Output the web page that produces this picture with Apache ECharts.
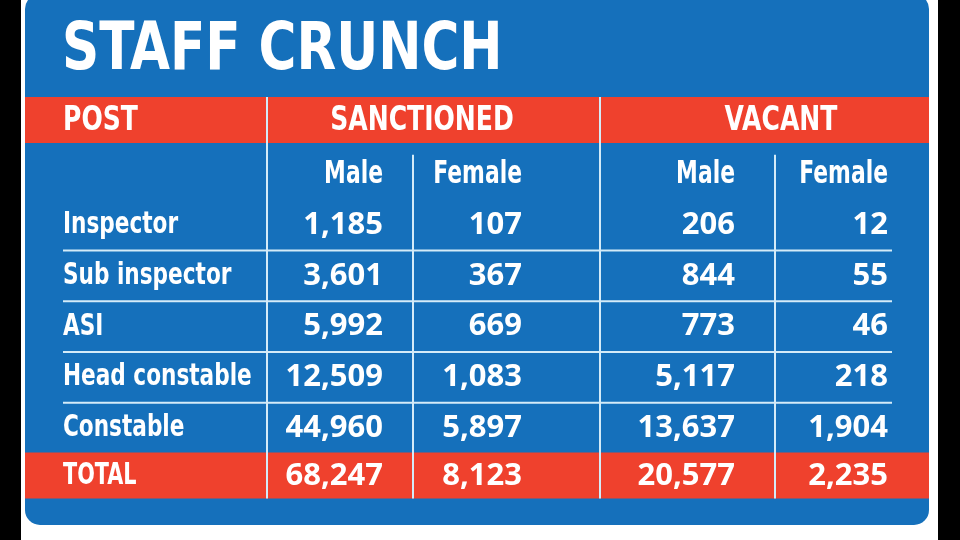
<!DOCTYPE html>
<html>
<head>
<meta charset="utf-8">
<title>Staff crunch</title>
<script src="https://cdn.jsdelivr.net/npm/echarts@6/dist/echarts.min.js"></script>
<style>
  html, body { margin: 0; padding: 0; background: #fff; }
  #main { width: 960px; height: 540px; }
</style>
</head>
<body>
<div id="main"></div>
<script>
// table data
var title = 'STAFF CRUNCH';
var groupHeaders = ['POST', 'SANCTIONED', 'VACANT'];
var subHeaders = ['Male', 'Female'];
var posts = ['Inspector', 'Sub inspector', 'ASI', 'Head constable', 'Constable'];
var sanctionedMale = [1185, 3601, 5992, 12509, 44960];
var sanctionedFemale = [107, 367, 669, 1083, 5897];
var vacantMale = [206, 844, 773, 5117, 13637];
var vacantFemale = [12, 55, 46, 218, 1904];
var totalLabel = 'TOTAL';
var totals = [68247, 8123, 20577, 2235];

// rows of the table (y category axis)
var rows = ['group', 'sub'].concat(posts, [totalLabel]);

// column layout (pixels on a 0..960 value axis)
var COL = {
  panelL: 25, panelR: 929,
  label: 63,
  sMale: 383, sFemale: 522, vMale: 735, vFemale: 888,
  sMid: 422, vMid: 781,
  div1: 267, div2: 600, sub1: 413, sub2: 775,
  ruleL: 63, ruleR: 892
};
var BLUE = '#1570BB';
var RED = '#EF412D';
var RULE = '#d4ebf8';
var NARROW = "'DejaVu Sans Condensed', 'Liberation Sans Narrow', 'Noto Sans', sans-serif";
var WIDE = "'Noto Sans', 'Open Sans', sans-serif";
var BAND_H = 46;

function fmt(v) { return v.toLocaleString('en-US'); }

// text cells
var cells = [];
cells.push({ x: COL.label, row: 'group', text: groupHeaders[0], kind: 'group', align: 'left' });
cells.push({ x: COL.sMid, row: 'group', text: groupHeaders[1], kind: 'group', align: 'center' });
cells.push({ x: COL.vMid, row: 'group', text: groupHeaders[2], kind: 'group', align: 'center' });
[COL.sMale, COL.sFemale, COL.vMale, COL.vFemale].forEach(function (x, i) {
  cells.push({ x: x, row: 'sub', text: subHeaders[i % 2], kind: 'sub', align: 'right' });
});
posts.forEach(function (p, i) {
  cells.push({ x: COL.label, row: p, text: p, kind: 'label', align: 'left' });
  cells.push({ x: COL.sMale, row: p, text: fmt(sanctionedMale[i]), kind: 'num', align: 'right' });
  cells.push({ x: COL.sFemale, row: p, text: fmt(sanctionedFemale[i]), kind: 'num', align: 'right' });
  cells.push({ x: COL.vMale, row: p, text: fmt(vacantMale[i]), kind: 'num', align: 'right' });
  cells.push({ x: COL.vFemale, row: p, text: fmt(vacantFemale[i]), kind: 'num', align: 'right' });
});
cells.push({ x: COL.label, row: totalLabel, text: totalLabel, kind: 'total', align: 'left' });
[COL.sMale, COL.sFemale, COL.vMale, COL.vFemale].forEach(function (x, i) {
  cells.push({ x: x, row: totalLabel, text: fmt(totals[i]), kind: 'num', align: 'right' });
});

// font and horizontal squeeze per kind of cell
var FONTS = {
  group: { font: 'bold 33px ' + NARROW, sx: 0.845 },
  sub: { font: 'bold 32px ' + NARROW, sx: 0.76 },
  label: { font: 'bold 31px ' + NARROW, sx: 0.775 },
  total: { font: 'bold 30px ' + NARROW, sx: 0.77 },
  num: { font: 'bold 31px ' + WIDE, sx: 1 }
};

function bandTop(api, row) {
  var c = api.coord([0, rows.indexOf(row)]);
  var h = api.size([0, 1])[1];
  return c[1] - h / 2;
}

var chart = echarts.init(document.getElementById('main'), null, { renderer: 'canvas' });
chart.setOption({
  animation: false,
  backgroundColor: '#fff',
  grid: { left: 0, right: 0, top: 97, bottom: 36.6 },
  xAxis: { type: 'value', min: 0, max: 960, show: false },
  yAxis: { type: 'category', data: rows, inverse: true, show: false },
  graphic: [
    { type: 'rect', shape: { x: 0, y: 0, width: 21, height: 540 }, style: { fill: '#000' }, z: 0 },
    { type: 'rect', shape: { x: 938, y: 0, width: 22, height: 540 }, style: { fill: '#000' }, z: 0 },
    { type: 'rect', shape: { x: COL.panelL, y: -6, width: COL.panelR - COL.panelL, height: 531, r: 15 },
      style: { fill: BLUE }, z: 0, silent: true },
    { type: 'text', x: 62, y: 52, scaleX: 0.87, z: 10,
      style: { text: title, fill: '#fff', font: 'bold 66px ' + NARROW, verticalAlign: 'middle' } }
  ],
  series: [
    {
      // red header and total bands
      type: 'custom',
      z: 2,
      data: [[COL.panelL, 'group'], [COL.panelL, totalLabel]],
      renderItem: function (params, api) {
        var row = params.dataIndex === 0 ? 'group' : totalLabel;
        var x0 = api.coord([COL.panelL, 0])[0];
        var x1 = api.coord([COL.panelR, 0])[0];
        return { type: 'rect', shape: { x: x0, y: bandTop(api, row), width: x1 - x0, height: BAND_H },
          style: { fill: RED } };
      }
    },
    {
      // horizontal rules between post rows
      type: 'custom',
      z: 3,
      data: posts.slice(0, -1).map(function (p) { return [COL.ruleL, p]; }),
      renderItem: function (params, api) {
        var y = bandTop(api, posts[params.dataIndex + 1]) + 1;
        var x0 = api.coord([COL.ruleL, 0])[0];
        var x1 = api.coord([COL.ruleR, 0])[0];
        return { type: 'line', shape: { x1: x0, y1: y, x2: x1, y2: y },
          style: { stroke: RULE, lineWidth: 2 } };
      }
    },
    {
      // vertical column dividers
      type: 'custom',
      z: 3,
      data: [[COL.div1, 'group'], [COL.div2, 'group'], [COL.sub1, 'sub'], [COL.sub2, 'sub']],
      renderItem: function (params, api) {
        var x = api.coord([api.value(0), 0])[0];
        var isMain = params.dataIndex < 2;
        var top = isMain ? bandTop(api, 'group') : bandTop(api, 'sub') + 7;
        var bottom = bandTop(api, totalLabel) + BAND_H;
        return { type: 'line', shape: { x1: x, y1: top, x2: x, y2: bottom },
          style: { stroke: RULE, lineWidth: 2 } };
      }
    },
    {
      // all text cells
      type: 'custom',
      z: 5,
      data: cells.map(function (c) { return [c.x, c.row]; }),
      renderItem: function (params, api) {
        var c = cells[params.dataIndex];
        var f = FONTS[c.kind];
        var p = api.coord([c.x, rows.indexOf(c.row)]);
        var y = p[1] + 1;
        if (c.row === 'group' || c.row === totalLabel) {
          y = bandTop(api, c.row) + BAND_H / 2 + 1;
        }
        return { type: 'text', x: p[0], y: y, scaleX: f.sx,
          style: { x: 0, y: 0, text: c.text, fill: '#fff', font: f.font, align: c.align, verticalAlign: 'middle' } };
      }
    }
  ]
});
</script>
</body>
</html>
